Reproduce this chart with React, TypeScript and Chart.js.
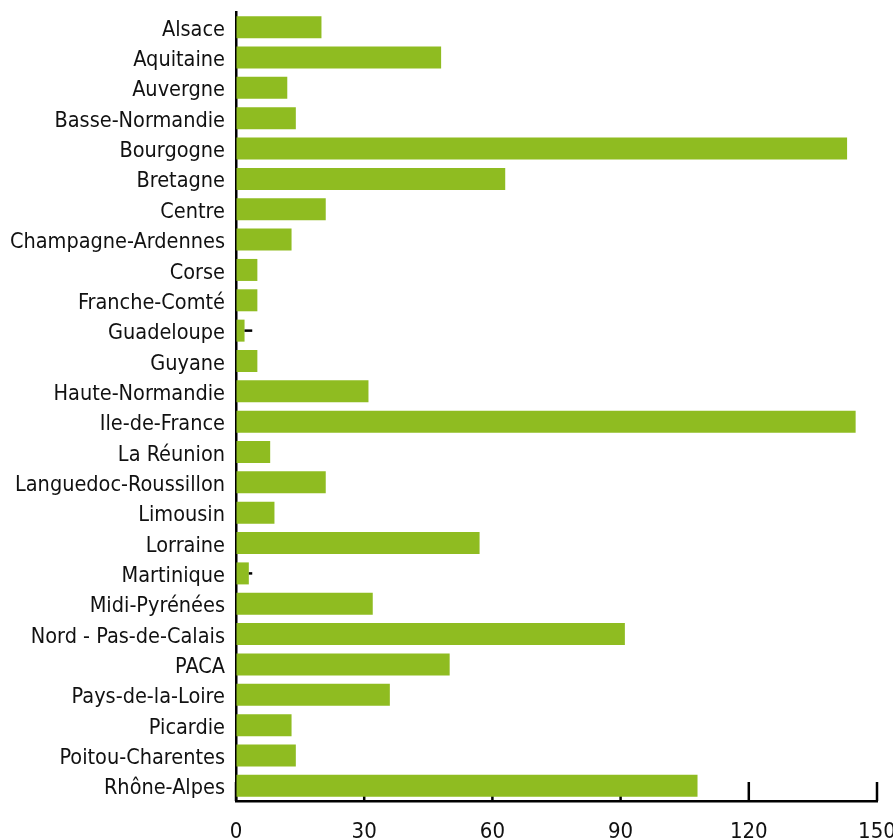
import { useEffect, useRef } from "react";
import { Chart, registerables } from "chart.js";

Chart.register(...registerables);

const regions = [
  "Alsace",
  "Aquitaine",
  "Auvergne",
  "Basse-Normandie",
  "Bourgogne",
  "Bretagne",
  "Centre",
  "Champagne-Ardennes",
  "Corse",
  "Franche-Comté",
  "Guadeloupe",
  "Guyane",
  "Haute-Normandie",
  "Ile-de-France",
  "La Réunion",
  "Languedoc-Roussillon",
  "Limousin",
  "Lorraine",
  "Martinique",
  "Midi-Pyrénées",
  "Nord - Pas-de-Calais",
  "PACA",
  "Pays-de-la-Loire",
  "Picardie",
  "Poitou-Charentes",
  "Rhône-Alpes",
];

const values = [20, 48, 12, 14, 143, 63, 21, 13, 5, 5, 2, 5, 31, 145, 8, 21, 9, 57, 3, 32, 91, 50, 36, 13, 14, 108];

// upper end of the small whiskers (only two regions show one)
const errorHigh: (number | null)[] = [
  null, null, null, null, null, null, null, null, null, null, 3.8, null, null,
  null, null, null, null, null, 3.8, null, null, null, null, null, null, null,
];

const xTicks = [0, 30, 60, 90, 120, 150];

const FONT_FAMILY = "'DejaVu Sans Condensed', 'Liberation Sans Narrow', sans-serif";
const BAR_COLOR = "#8fbc21";

const innerTicksPlugin = {
  id: "innerTicks",
  beforeDatasetsDraw(chart: any) {
    const { ctx, chartArea, scales } = chart;
    const x = scales.x;
    ctx.save();
    ctx.strokeStyle = "#000";
    ctx.lineWidth = 2.5;
    for (const v of xTicks) {
      const px = x.getPixelForValue(v);
      ctx.beginPath();
      ctx.moveTo(px, chartArea.bottom);
      ctx.lineTo(px, chartArea.bottom - 19);
      ctx.stroke();
    }
    ctx.restore();
  },
};

const whiskerPlugin = {
  id: "whiskers",
  afterDatasetsDraw(chart: any) {
    const { ctx, scales } = chart;
    const x = scales.x;
    const y = scales.y;
    ctx.save();
    ctx.strokeStyle = "#000";
    ctx.lineWidth = 2.5;
    errorHigh.forEach((hi, i) => {
      if (hi == null) return;
      const py = y.getPixelForValue(i);
      const x0 = x.getPixelForValue(values[i]);
      const x1 = x.getPixelForValue(hi);
      ctx.beginPath();
      ctx.moveTo(x0, py);
      ctx.lineTo(x1, py);
      ctx.stroke();
    });
    ctx.restore();
  },
};

export default function App() {
  const canvasRef = useRef<HTMLCanvasElement | null>(null);

  useEffect(() => {
    document.body.style.margin = "0";
    const canvas = canvasRef.current;
    if (!canvas) return;
    const chart = new Chart(canvas, {
      type: "bar",
      data: {
        labels: regions,
        datasets: [
          {
            data: values,
            backgroundColor: BAR_COLOR,
            borderWidth: 0,
            barPercentage: 0.725,
            categoryPercentage: 1,
          },
        ],
      },
      options: {
        indexAxis: "y",
        responsive: false,
        animation: false,
        devicePixelRatio: 1,
        layout: { padding: { top: 12, right: 16, bottom: 0, left: 0 } },
        plugins: {
          legend: { display: false },
          tooltip: { enabled: false },
          title: { display: false },
        },
        scales: {
          x: {
            type: "linear",
            min: 0,
            max: 150,
            ticks: {
              stepSize: 30,
              color: "#111",
              padding: 18,
              font: { family: FONT_FAMILY, size: 22 },
            },
            grid: { display: true, drawOnChartArea: false, drawTicks: false },
            border: { display: true, color: "#000", width: 2.5 },
            afterFit(s: any) {
              s.paddingLeft = 0;
              s.paddingRight = 0;
              s.height = 39;
            },
          },
          y: {
            type: "category",
            ticks: {
              color: "#111",
              padding: 11,
              labelOffset: 3,
              autoSkip: false,
              font: { family: FONT_FAMILY, size: 21.5 },
            },
            grid: { display: true, drawOnChartArea: false, drawTicks: false },
            border: { display: true, color: "#000", width: 2.5 },
            afterFit(s: any) {
              s.paddingTop = 0;
              s.paddingBottom = 0;
              s.width = 236;
            },
          },
        },
      },
      plugins: [innerTicksPlugin, whiskerPlugin],
    });
    return () => chart.destroy();
  }, []);

  return <canvas ref={canvasRef} width={893} height={840} style={{ display: "block" }} />;
}
